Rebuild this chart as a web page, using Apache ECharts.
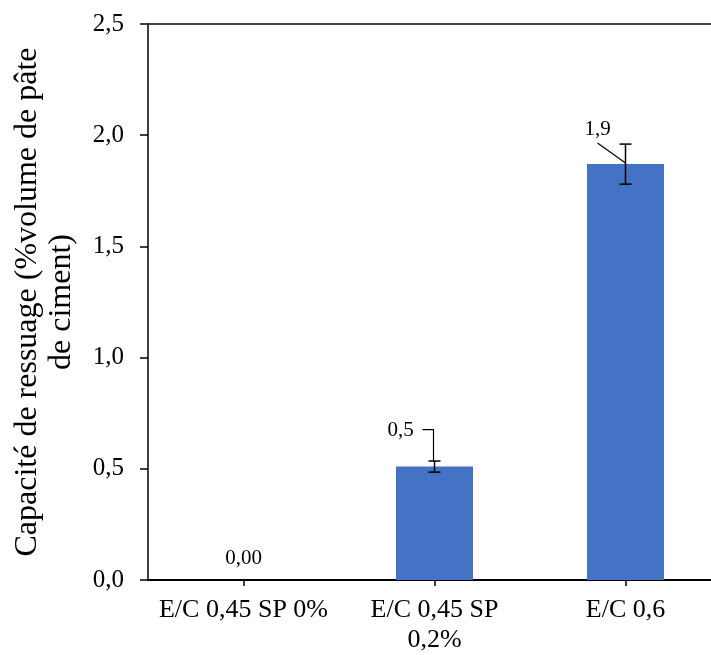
<!DOCTYPE html>
<html>
<head>
<meta charset="utf-8">
<script src="https://cdn.jsdelivr.net/npm/echarts@6/dist/echarts.min.js"></script>
<style>
html,body{margin:0;padding:0;background:#fff;}
#chart{width:711px;height:655px;}
</style>
</head>
<body>
<div id="chart"></div>
<script>
// ---- data ----
var categories = ['E/C 0,45 SP 0%', 'E/C 0,45 SP\n0,2%', 'E/C 0,6'];
var values = [0, 0.51, 1.87];
var errors = [0, 0.025, 0.09];
var labelTexts = ['0,00', '0,5', '1,9'];
var yTicks = [0, 0.5, 1.0, 1.5, 2.0, 2.5];
var yTitle = 'Capacité de ressuage (%volume de pâte\nde ciment)';

// ---- style (pixel offsets of data labels relative to bar top) ----
var FONT = '"Liberation Serif", "Times New Roman", serif';
var labelStyle = [
  { dx: 0, dy: -22, line: null },
  { dx: -34, dy: -36, line: [[-12, -37], [-1, -37], [-1, -5]] },
  { dx: -28, dy: -35, line: [[-28, -21], [0, -1]] }
];

var chart = echarts.init(document.getElementById('chart'));

var errData = [];
for (var i = 0; i < values.length; i++) {
  if (errors[i] > 0) errData.push([i, values[i] - errors[i], values[i] + errors[i]]);
}
var lblData = values.map(function (v, i) { return [i, v]; });

var option = {
  animation: false,
  backgroundColor: '#fff',
  grid: { left: 148, top: 24, width: 573, height: 556, outerBoundsMode: 'none', containLabel: false },
  graphic: [{
    type: 'text',
    x: 45, y: 302,
    rotation: Math.PI / 2,
    style: {
      text: yTitle,
      font: '32px ' + FONT,
      fill: '#000',
      align: 'center',
      verticalAlign: 'middle',
      lineHeight: 34
    }
  }],
  xAxis: [{
    type: 'category',
    data: categories,
    axisLine: { lineStyle: { color: '#000', width: 2 } },
    axisTick: { show: true, alignWithLabel: true, length: 6, lineStyle: { color: '#000', width: 1.5 } },
    axisLabel: { color: '#000', fontFamily: FONT, fontSize: 26, lineHeight: 30, margin: 15, interval: 0 }
  }, {
    type: 'category',
    data: categories,
    position: 'top',
    axisLine: { show: true, lineStyle: { color: '#444', width: 2 } },
    axisTick: { show: false },
    axisLabel: { show: false }
  }],
  yAxis: {
    type: 'value',
    min: 0, max: 2.5, interval: 0.5,
    axisLine: { show: true, lineStyle: { color: '#000', width: 1.5 } },
    axisTick: { show: true, length: 8, lineStyle: { color: '#000', width: 1.5 } },
    splitLine: { show: false },
    axisLabel: {
      color: '#000', fontFamily: FONT, fontSize: 25, margin: 24,
      formatter: function (v) { return v.toFixed(1).replace('.', ','); }
    }
  },
  series: [{
    type: 'bar',
    data: values,
    barWidth: 77,
    itemStyle: { color: '#4472C4' },
    z: 2
  }, {
    type: 'custom',
    data: errData,
    z: 5,
    renderItem: function (params, api) {
      var lo = api.coord([api.value(0), api.value(1)]);
      var hi = api.coord([api.value(0), api.value(2)]);
      var x = lo[0], c = 6;
      var st = { stroke: '#000', lineWidth: 1.5 };
      return { type: 'group', children: [
        { type: 'line', shape: { x1: x, y1: lo[1], x2: x, y2: hi[1] }, style: st },
        { type: 'line', shape: { x1: x - c, y1: lo[1], x2: x + c, y2: lo[1] }, style: st },
        { type: 'line', shape: { x1: x - c, y1: hi[1], x2: x + c, y2: hi[1] }, style: st }
      ]};
    }
  }, {
    type: 'custom',
    data: lblData,
    z: 6,
    renderItem: function (params, api) {
      var idx = api.value(0);
      var p = api.coord([idx, api.value(1)]);
      var s = labelStyle[idx];
      var children = [{
        type: 'text',
        x: p[0] + s.dx, y: p[1] + s.dy,
        style: { text: labelTexts[idx], font: '21px ' + FONT, fill: '#000', align: 'center', verticalAlign: 'middle' }
      }];
      if (s.line) {
        children.push({
          type: 'polyline',
          shape: { points: s.line.map(function (q) { return [p[0] + q[0], p[1] + q[1]]; }) },
          style: { stroke: '#000', lineWidth: 1.2, fill: null }
        });
      }
      return { type: 'group', children: children };
    }
  }]
};
chart.setOption(option);
</script>
</body>
</html>
